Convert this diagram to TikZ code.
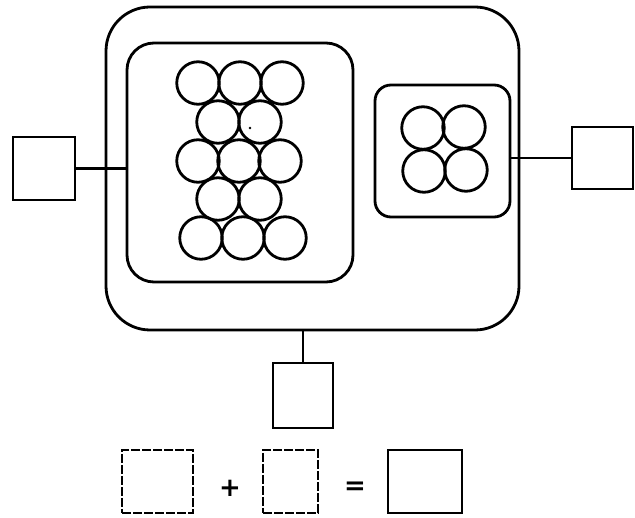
\documentclass[tikz,border=0pt]{standalone}
\usepackage{fontspec}
\usepackage{tikz}
\usetikzlibrary{positioning, calc}
\newfontfamily\signfont{DejaVu Sans}

\begin{document}
\begin{tikzpicture}[
    x=1pt, y=-1pt,
    line width=2.8pt,
    cell/.style={draw, rounded corners=#1, inner sep=0pt},
    box/.style={draw, inner sep=0pt},
    blank/.style={box, dash pattern=on 9pt off 2pt},
    ball/.style={draw, circle, minimum size=42.5pt, inner sep=0pt},
    sign/.style={font=\signfont\bfseries\fontsize{26}{26}\selectfont, inner sep=0pt}
]
    \useasboundingbox (0,0) rectangle (635,518);
    \node[cell=44pt, minimum width=413pt, minimum height=323pt] (outer) at (312.5,168.5) {};
    \node[cell=27pt, minimum width=226pt, minimum height=239pt] (bigcell) at (240,162.5) {};
    \node[cell=16pt, minimum width=135pt, minimum height=132pt] (smallcell) at (442.5,151) {};
    \node[box, minimum width=62pt, minimum height=63pt] (lbox) at (44,168.5) {};
    \node[box, minimum width=61pt, minimum height=62pt] (rbox) at (602.5,158) {};
    \node[box, minimum width=60pt, minimum height=65pt] (bbox) at (303,395.5) {};
    \draw (lbox.east) -- (lbox.east -| bigcell.west);
    \draw (rbox.west) -- (rbox.west -| smallcell.east);
    \draw (bbox.north) -- (bbox.north |- outer.south);
    % packed balls
    \node[ball] (b1) at (198,83) {};
    \node[ball] (b2) at (240,83) {};
    \node[ball] (b3) at (282,83) {};
    \node[ball] (b4) at (218,122) {};
    \node[ball] (b5) at (260,122) {};
    \node[ball] (b6) at (198,161) {};
    \node[ball] (b7) at (239,161) {};
    \node[ball] (b8) at (280,161) {};
    \node[ball] (b9) at (218,199) {};
    \node[ball] (b10) at (260,199) {};
    \node[ball] (b11) at (201,238) {};
    \node[ball] (b12) at (243,238) {};
    \node[ball] (b13) at (285,238) {};
    \fill (250,128) circle (1.3pt);
    % loose balls
    \node[ball] (s1) at (423,128) {};
    \node[ball] (s2) at (464,127) {};
    \node[ball] (s3) at (424,171) {};
    \node[ball] (s4) at (466,170) {};
    % sum
    \node[blank, minimum width=71pt, minimum height=63pt] (sumA) at (157.5,481.5) {};
    \node[sign] (plus) at (230,488) {+};
    \node[blank, minimum width=55pt, minimum height=63pt] (sumB) at (290.5,481.5) {};
    \node[sign] (eq) at (355,488) {=};
    \node[box, minimum width=74pt, minimum height=63pt] (sumC) at (425,481.5) {};
\end{tikzpicture}
\end{document}
